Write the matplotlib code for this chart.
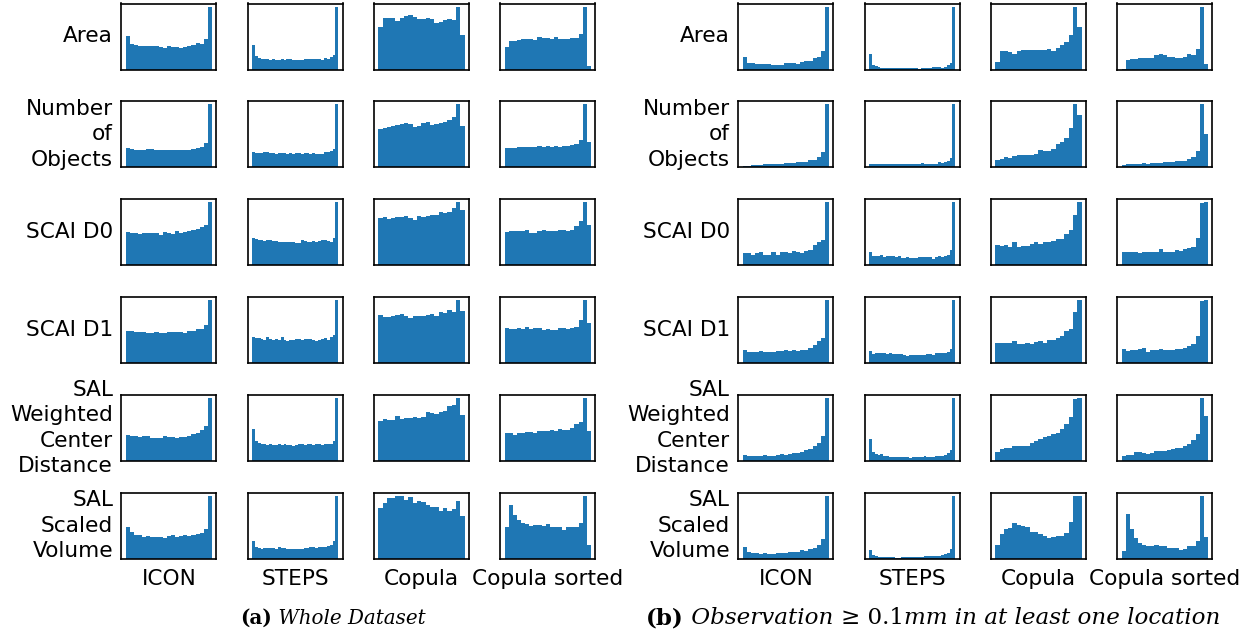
import matplotlib
matplotlib.use("Agg")
import matplotlib.pyplot as plt
import numpy as np

# ---------------- data (relative bar heights) ----------------
columns = ["ICON", "STEPS", "Copula", "Copula sorted"]
row_labels = ["Area", "Number\nof\nObjects", "SCAI D0", "SCAI D1",
              "SAL\nWeighted\nCenter\nDistance", "SAL\nScaled\nVolume"]

# (a) Whole dataset
a_area_icon = [100, 76, 73, 70, 70, 70, 70, 70, 67, 64, 70, 67, 67, 64, 67, 70, 73, 79, 76, 91, 189]
a_area_steps = [73, 40, 36, 33, 33, 33, 30, 33, 30, 30, 33, 30, 33, 33, 30, 30, 30, 30, 33, 33, 33, 33, 33, 33, 30, 36, 33, 39, 43, 189]
a_area_cop = [129, 156, 156, 156, 147, 156, 162, 165, 159, 153, 153, 156, 153, 141, 144, 150, 153, 150, 189, 105]
a_area_sort = [69, 87, 87, 90, 93, 93, 93, 90, 99, 96, 96, 93, 99, 93, 93, 93, 96, 96, 108, 189, 12]

a_nobj_icon = [59, 54, 51, 53, 53, 56, 56, 53, 53, 53, 53, 53, 53, 53, 53, 53, 56, 59, 62, 74, 188]
a_nobj_steps = [47, 44, 44, 44, 47, 47, 44, 44, 41, 44, 44, 44, 41, 44, 41, 44, 44, 41, 44, 44, 41, 44, 41, 41, 41, 47, 47, 50, 56, 188]
a_nobj_cop = [116, 119, 122, 125, 128, 131, 134, 131, 122, 125, 134, 137, 128, 131, 134, 137, 143, 152, 188, 125]
a_nobj_sort = [59, 59, 59, 62, 62, 62, 62, 62, 65, 62, 65, 62, 65, 62, 65, 65, 68, 71, 83, 188, 77]

a_d0_icon = [98, 95, 95, 92, 95, 95, 95, 95, 89, 98, 95, 92, 101, 95, 98, 101, 104, 107, 113, 119, 188]
a_d0_steps = [80, 77, 74, 74, 71, 74, 74, 71, 71, 68, 68, 68, 68, 68, 68, 65, 65, 74, 71, 68, 68, 71, 68, 71, 74, 74, 71, 68, 80, 188]
a_d0_cop = [140, 143, 137, 140, 143, 143, 146, 140, 134, 146, 143, 146, 149, 149, 158, 155, 158, 170, 188, 164]
a_d0_sort = [98, 101, 101, 101, 101, 104, 95, 95, 101, 104, 101, 101, 101, 104, 104, 101, 104, 116, 131, 188, 119]

a_d1_icon = [95, 95, 92, 92, 92, 89, 89, 92, 89, 89, 92, 92, 92, 92, 89, 95, 95, 101, 101, 113, 188]
a_d1_steps = [77, 74, 74, 71, 68, 77, 71, 68, 71, 68, 77, 68, 65, 68, 68, 71, 71, 68, 71, 71, 71, 68, 65, 68, 71, 74, 68, 77, 83, 188]
a_d1_cop = [143, 137, 137, 140, 143, 146, 140, 134, 140, 140, 140, 143, 146, 140, 152, 149, 158, 152, 188, 155]
a_d1_sort = [104, 101, 101, 104, 101, 107, 101, 104, 104, 98, 101, 98, 98, 104, 104, 101, 104, 107, 128, 188, 119]

a_wcd_icon = [77, 74, 74, 71, 74, 74, 68, 68, 68, 74, 71, 71, 68, 71, 71, 74, 80, 83, 92, 104, 188]
a_wcd_steps = [96, 59, 53, 50, 50, 47, 50, 47, 47, 50, 47, 50, 47, 47, 44, 47, 50, 50, 47, 50, 50, 47, 50, 50, 47, 50, 50, 50, 59, 188]
a_wcd_cop = [119, 125, 122, 122, 134, 125, 128, 128, 131, 128, 131, 146, 143, 140, 146, 149, 164, 167, 188, 137]
a_wcd_sort = [83, 83, 77, 83, 83, 86, 86, 83, 89, 89, 89, 92, 89, 95, 92, 92, 98, 110, 116, 188, 89]

a_vol_icon = [96, 81, 72, 72, 66, 69, 66, 66, 66, 63, 69, 72, 66, 69, 72, 69, 72, 75, 78, 90, 189]
a_vol_steps = [54, 36, 33, 30, 33, 33, 33, 33, 30, 36, 33, 33, 30, 30, 30, 30, 30, 30, 33, 33, 36, 36, 33, 36, 36, 36, 39, 42, 54, 189]
a_vol_cop = [153, 168, 183, 183, 189, 189, 177, 186, 168, 174, 171, 162, 156, 156, 144, 153, 144, 150, 174, 129]
a_vol_sort = [96, 162, 132, 117, 108, 105, 99, 102, 102, 99, 105, 96, 96, 96, 87, 96, 96, 96, 108, 189, 42]

# (b) Observation >= 0.1mm in at least one location
b_area_icon = [39, 21, 21, 18, 18, 18, 18, 15, 15, 15, 21, 21, 21, 18, 24, 27, 27, 36, 39, 57, 189]
b_area_steps = [48, 15, 12, 9, 6, 6, 6, 6, 6, 6, 6, 6, 6, 6, 6, 6, 6, 3, 6, 6, 6, 6, 9, 9, 9, 6, 9, 15, 21, 189]
b_area_cop = [24, 57, 57, 54, 48, 57, 60, 60, 60, 60, 60, 60, 63, 57, 66, 75, 84, 105, 189, 129]
b_area_sort = [3, 30, 33, 33, 36, 36, 36, 36, 45, 48, 45, 39, 39, 36, 36, 39, 48, 45, 63, 189, 18]

b_nobj_icon = [5, 5, 8, 8, 8, 11, 11, 11, 11, 11, 14, 14, 14, 17, 17, 17, 23, 23, 32, 47, 188]
b_nobj_steps = [11, 11, 11, 11, 11, 11, 11, 11, 11, 11, 11, 11, 11, 11, 11, 11, 11, 11, 14, 11, 11, 11, 11, 11, 17, 14, 17, 20, 29, 188]
b_nobj_cop = [23, 26, 32, 29, 35, 38, 38, 38, 38, 41, 53, 50, 50, 56, 71, 77, 89, 119, 188, 158]
b_nobj_sort = [8, 11, 11, 11, 11, 14, 11, 14, 14, 14, 17, 17, 17, 20, 20, 20, 26, 32, 50, 188, 101]

b_d0_icon = [35, 35, 32, 35, 38, 32, 32, 38, 32, 38, 38, 35, 41, 38, 35, 41, 44, 59, 68, 74, 188]
b_d0_steps = [38, 29, 29, 29, 32, 26, 29, 29, 29, 26, 29, 23, 23, 26, 23, 23, 23, 26, 26, 26, 26, 26, 20, 26, 29, 26, 29, 32, 44, 188]
b_d0_cop = [59, 56, 59, 53, 68, 53, 56, 56, 62, 68, 62, 68, 68, 71, 77, 77, 92, 104, 149, 188]
b_d0_sort = [38, 38, 38, 38, 35, 38, 38, 38, 38, 47, 38, 38, 38, 44, 41, 47, 50, 53, 80, 186, 188]

b_d1_icon = [38, 32, 32, 32, 35, 32, 32, 32, 35, 35, 38, 35, 38, 35, 38, 38, 44, 53, 65, 74, 188]
b_d1_steps = [35, 26, 29, 29, 29, 29, 26, 29, 26, 26, 26, 26, 23, 20, 23, 23, 23, 23, 23, 23, 26, 26, 23, 29, 29, 29, 29, 32, 41, 188]
b_d1_cop = [59, 59, 59, 59, 65, 56, 56, 59, 56, 62, 65, 59, 68, 68, 74, 80, 95, 101, 152, 188]
b_d1_sort = [41, 35, 38, 38, 41, 44, 32, 38, 38, 41, 38, 38, 38, 41, 41, 44, 50, 56, 80, 185, 188]

b_wcd_icon = [17, 14, 14, 14, 14, 17, 14, 14, 17, 20, 17, 20, 23, 23, 26, 32, 35, 44, 53, 74, 188]
b_wcd_steps = [65, 26, 20, 17, 20, 14, 14, 11, 11, 11, 11, 11, 11, 11, 8, 11, 11, 11, 11, 14, 11, 11, 11, 14, 14, 14, 17, 23, 32, 188]
b_wcd_cop = [26, 35, 38, 38, 44, 44, 44, 44, 53, 59, 65, 71, 74, 80, 83, 95, 110, 131, 185, 188]
b_wcd_sort = [14, 17, 17, 26, 26, 23, 20, 23, 29, 29, 29, 32, 35, 38, 38, 44, 50, 62, 80, 188, 134]

b_vol_icon = [36, 21, 18, 18, 15, 18, 15, 15, 18, 18, 18, 21, 21, 21, 27, 24, 30, 33, 42, 60, 189]
b_vol_steps = [27, 12, 9, 6, 6, 6, 6, 6, 6, 3, 3, 6, 6, 6, 6, 6, 6, 6, 6, 9, 9, 9, 9, 9, 9, 12, 15, 18, 30, 189]
b_vol_cop = [42, 75, 90, 93, 108, 102, 99, 96, 81, 81, 75, 69, 63, 66, 69, 69, 78, 111, 189, 189]
b_vol_sort = [24, 135, 90, 63, 48, 42, 39, 39, 42, 39, 39, 33, 33, 33, 27, 30, 39, 39, 54, 189, 66]

panel_a = [
    [a_area_icon, a_area_steps, a_area_cop, a_area_sort],
    [a_nobj_icon, a_nobj_steps, a_nobj_cop, a_nobj_sort],
    [a_d0_icon, a_d0_steps, a_d0_cop, a_d0_sort],
    [a_d1_icon, a_d1_steps, a_d1_cop, a_d1_sort],
    [a_wcd_icon, a_wcd_steps, a_wcd_cop, a_wcd_sort],
    [a_vol_icon, a_vol_steps, a_vol_cop, a_vol_sort],
]
panel_b = [
    [b_area_icon, b_area_steps, b_area_cop, b_area_sort],
    [b_nobj_icon, b_nobj_steps, b_nobj_cop, b_nobj_sort],
    [b_d0_icon, b_d0_steps, b_d0_cop, b_d0_sort],
    [b_d1_icon, b_d1_steps, b_d1_cop, b_d1_sort],
    [b_wcd_icon, b_wcd_steps, b_wcd_cop, b_wcd_sort],
    [b_vol_icon, b_vol_steps, b_vol_cop, b_vol_sort],
]

caption_a = [("(a)", "bold", "normal"), (" Whole Dataset", "normal", "italic")]
caption_b = [("(b)", "bold", "normal"), (" Observation ", "normal", "italic"),
             ("\u2265 0.1", "normal", "normal"),
             ("mm in at least one location", "normal", "italic")]

# ---------------- layout ----------------
W, H = 1258, 637
fig = plt.figure(figsize=(W / 100, H / 100), dpi=100)

BAR_COLOR = "#1f77b4"
ax_w, ax_h = 95, 66
col_pitch = 126.3
row_pitch = 97.85
row_top0 = 3.5
LABEL_FS = 15.6


def px_axes(left, top, w, h):
    return fig.add_axes([left / W, 1 - (top + h) / H, w / W, h / H])


def draw_panel(data, left0, label_right):
    for r, row in enumerate(data):
        top = row_top0 + r * row_pitch
        for c, vals in enumerate(row):
            left = left0 + c * col_pitch
            ax = px_axes(left, top, ax_w, ax_h)
            ax.bar(np.arange(len(vals)), vals, width=1.0, color=BAR_COLOR,
                   linewidth=0)
            ax.set_xticks([])
            ax.set_yticks([])
            for s in ax.spines.values():
                s.set_color("black")
                s.set_linewidth(1.2)
        fig.text(label_right / W, 1 - (top + ax_h / 2) / H, row_labels[r],
                 ha="right", va="center", multialignment="right",
                 fontsize=LABEL_FS, linespacing=1.35)
    bottom = row_top0 + 5 * row_pitch + ax_h
    for c, name in enumerate(columns):
        cx = left0 + c * col_pitch + ax_w / 2
        fig.text(cx / W, 1 - (bottom + 20) / H, name, ha="center",
                 va="center", fontsize=LABEL_FS)


draw_panel(panel_a, 121.3, 113)
draw_panel(panel_b, 738.3, 730)

# captions built from pieces (bold label + italic text), centred as a whole
renderer = fig.canvas.get_renderer()
CAP_FONT = "DejaVu Serif"


def caption(pieces, cx, cy, fs):
    texts = []
    for s, weight, style in pieces:
        t = fig.text(0, 1 - cy / H, s, ha="left", va="baseline",
                     fontsize=fs, fontweight=weight, fontstyle=style,
                     family=CAP_FONT)
        texts.append(t)
    widths = [t.get_window_extent(renderer).width for t in texts]
    total = sum(widths)
    x = cx - total / 2
    for t, w in zip(texts, widths):
        t.set_x(x / W)
        x += w


caption(caption_a, 333, 624, 14.3)
caption(caption_b, 933, 624, 16.6)

fig.savefig("out.png", dpi=100)
